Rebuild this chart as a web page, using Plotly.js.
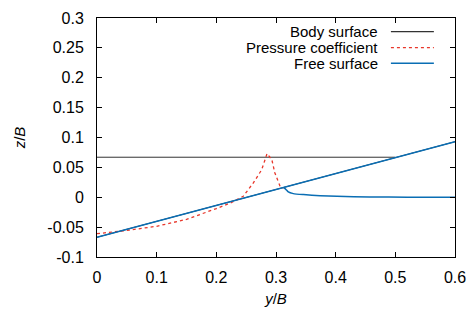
<!DOCTYPE html>
<html>
<head>
<meta charset="utf-8">
<script src="https://cdn.plot.ly/plotly-3.0.1.min.js"></script>
<style>html,body{margin:0;padding:0;background:#fff;}#chart{width:471px;height:313px;}</style>
</head>
<body>
<div id="chart"></div>
<script>
// Body surface: horizontal top and inclined side
const bodyX = [0, 0.5, null, 0, 0.6];
const bodyZ = [0.067, 0.067, null, -0.067, 0.093];

// Pressure coefficient
const pressX = [0, 0.025, 0.05, 0.1, 0.15, 0.2, 0.225, 0.245, 0.262, 0.276, 0.285, 0.293, 0.298, 0.307, 0.313];
const pressZ = [-0.061, -0.0585, -0.0555, -0.0486, -0.037, -0.019, -0.009, 0.0015, 0.024, 0.046, 0.073, 0.063, 0.041, 0.018, 0.0155];

// Free surface (along body and detached wave)
const freeX = [0, 0.6, null, 0.313, 0.317, 0.3206, 0.329, 0.346, 0.374, 0.402, 0.457, 0.52, 0.6];
const freeZ = [-0.067, 0.093, null, 0.0165, 0.0127, 0.0089, 0.0061, 0.0044, 0.0027, 0.0015, 0.0005, 0.0002, 0.0];

// Tick labels
const xTickVals = [0, 0.1, 0.2, 0.3, 0.4, 0.5, 0.6];
const xTickText = ['0', '0.1', '0.2', '0.3', '0.4', '0.5', '0.6'];
const yTickVals = [-0.1, -0.05, 0, 0.05, 0.1, 0.15, 0.2, 0.25, 0.3];
const yTickText = ['-0.1', '-0.05', '0', '0.05', '0.1', '0.15', '0.2', '0.25', '0.3'];

const legendNames = ['Body surface', 'Pressure coefficient', 'Free surface'];
const colors = ['#333333', '#e8362a', '#0a6eb4'];
const dashes = ['solid', 'dot', 'solid'];

const traces = [
  {x: bodyX, y: bodyZ, mode: 'lines', line: {color: colors[0], width: 1}, name: legendNames[0], connectgaps: false},
  {x: pressX, y: pressZ, mode: 'lines', line: {color: colors[1], width: 1.3, dash: dashes[1]}, name: legendNames[1]},
  {x: freeX, y: freeZ, mode: 'lines', line: {color: colors[2], width: 1.5, shape: 'spline', smoothing: 0.6}, name: legendNames[2], connectgaps: false}
];

const font = {family: 'Liberation Sans, Arial, sans-serif', size: 16, color: '#000'};
const annotations = [];
const shapes = [];
const rowY = [0.943, 0.876, 0.811];
for (let i = 0; i < 3; i++) {
  annotations.push({xref: 'paper', yref: 'paper', x: 0.7905, y: rowY[i], xanchor: 'right', yanchor: 'middle',
    text: legendNames[i], showarrow: false, font: {family: font.family, size: 15, color: '#000'}});
  shapes.push({type: 'line', xref: 'paper', yref: 'paper', x0: 0.821, x1: 0.941, y0: rowY[i], y1: rowY[i],
    line: {color: colors[i], width: i === 2 ? 1.5 : 1.2, dash: dashes[i]}});
}

const layout = {
  width: 471, height: 313,
  margin: {l: 97, r: 16, t: 18, b: 56},
  paper_bgcolor: '#fff', plot_bgcolor: '#fff',
  showlegend: false,
  font: font,
  xaxis: {
    range: [0, 0.6], tickmode: 'array', tickvals: xTickVals, ticktext: xTickText, tickangle: 0,
    ticks: 'inside', ticklen: 5, tickcolor: '#000',
    showline: true, linecolor: '#000', linewidth: 1, mirror: 'ticks', showgrid: false, zeroline: false,
    ticklabelstandoff: 6, automargin: false,
    title: {text: '<i>y</i>/<i>B</i>', font: {family: font.family, size: 15}, standoff: 8}
  },
  yaxis: {
    range: [-0.1, 0.3], tickmode: 'array', tickvals: yTickVals, ticktext: yTickText,
    ticks: 'inside', ticklen: 5, tickcolor: '#000',
    showline: true, linecolor: '#000', linewidth: 1, mirror: 'ticks', showgrid: false, zeroline: false,
    ticklabelstandoff: 9, automargin: false,
    title: {text: '<i>z</i>/<i>B</i>', font: {family: font.family, size: 15}, standoff: 18}
  },
  annotations: annotations,
  shapes: shapes
};

Plotly.newPlot('chart', traces, layout, {staticPlot: true, displayModeBar: false});
</script>
</body>
</html>
